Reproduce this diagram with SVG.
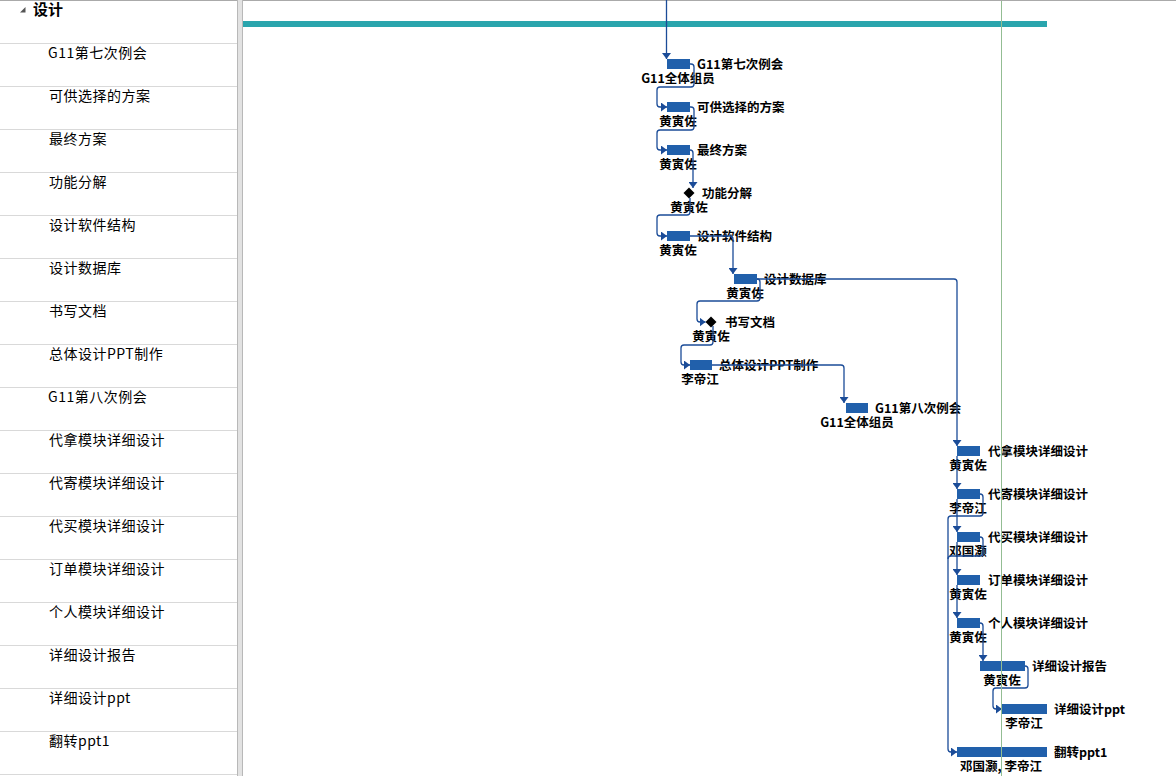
<svg xmlns="http://www.w3.org/2000/svg" width="1176" height="776" viewBox="0 0 1176 776">
<style>
.row{font-family:"Noto Sans CJK SC","Liberation Sans",sans-serif;font-size:14px;fill:#000;letter-spacing:0.5px}
.hdr{font-family:"Noto Sans CJK SC","Liberation Sans",sans-serif;font-size:15px;font-weight:bold;fill:#000}
.sep{stroke:#d9d9d9;stroke-width:1}
.bar{fill:#2160ab}
.ms{fill:#000}
.lbl{font-family:"Noto Sans CJK SC","Liberation Sans",sans-serif;font-size:12.5px;font-weight:bold;fill:#000}
.res{font-family:"Noto Sans CJK SC","Liberation Sans",sans-serif;font-size:12.5px;font-weight:bold;fill:#000;text-anchor:middle}
.cn{fill:none;stroke:#1b4c98;stroke-width:1.3;marker-end:url(#ah)}
.cx{fill:none;stroke:#1b4c98;stroke-width:1.3}
</style>
<defs>
<marker id="ah" viewBox="0 0 6 9" refX="6" refY="4.5" markerUnits="userSpaceOnUse" markerWidth="6" markerHeight="9" orient="auto">
<path d="M0,0 L6,4.5 L0,9 z" fill="#1b4c98"/>
</marker>
</defs>
<rect x="0" y="0" width="1176" height="776" fill="#fff"/>
<g id="grid">
<line x1="0" y1="0.5" x2="1176" y2="0.5" stroke="#aaa"/>
<rect x="237" y="0" width="5" height="776" fill="#e2e2e2"/>
<line x1="237.5" y1="0" x2="237.5" y2="776" stroke="#b8b8b8"/>
<line x1="242.5" y1="0" x2="242.5" y2="776" stroke="#b8b8b8"/>
<line class="sep" x1="0" y1="43.5" x2="237" y2="43.5"/>
<line class="sep" x1="0" y1="86.5" x2="237" y2="86.5"/>
<line class="sep" x1="0" y1="129.5" x2="237" y2="129.5"/>
<line class="sep" x1="0" y1="172.5" x2="237" y2="172.5"/>
<line class="sep" x1="0" y1="215.5" x2="237" y2="215.5"/>
<line class="sep" x1="0" y1="258.5" x2="237" y2="258.5"/>
<line class="sep" x1="0" y1="301.5" x2="237" y2="301.5"/>
<line class="sep" x1="0" y1="344.5" x2="237" y2="344.5"/>
<line class="sep" x1="0" y1="387.5" x2="237" y2="387.5"/>
<line class="sep" x1="0" y1="430.5" x2="237" y2="430.5"/>
<line class="sep" x1="0" y1="473.5" x2="237" y2="473.5"/>
<line class="sep" x1="0" y1="516.5" x2="237" y2="516.5"/>
<line class="sep" x1="0" y1="559.5" x2="237" y2="559.5"/>
<line class="sep" x1="0" y1="602.5" x2="237" y2="602.5"/>
<line class="sep" x1="0" y1="645.5" x2="237" y2="645.5"/>
<line class="sep" x1="0" y1="688.5" x2="237" y2="688.5"/>
<line class="sep" x1="0" y1="731.5" x2="237" y2="731.5"/>
<line class="sep" x1="0" y1="774.5" x2="237" y2="774.5"/>
</g>
<g id="table">
<polygon points="25.5,7 25.5,12.5 20,12.5" fill="#555"/>
<text class="hdr" x="33" y="15">设计</text>
<text class="row" x="48" y="58">G11第七次例会</text>
<text class="row" x="49" y="101">可供选择的方案</text>
<text class="row" x="49" y="144">最终方案</text>
<text class="row" x="49" y="187">功能分解</text>
<text class="row" x="49" y="230">设计软件结构</text>
<text class="row" x="49" y="273">设计数据库</text>
<text class="row" x="49" y="316">书写文档</text>
<text class="row" x="49" y="359">总体设计PPT制作</text>
<text class="row" x="48" y="402">G11第八次例会</text>
<text class="row" x="49" y="445">代拿模块详细设计</text>
<text class="row" x="49" y="488">代寄模块详细设计</text>
<text class="row" x="49" y="531">代买模块详细设计</text>
<text class="row" x="49" y="574">订单模块详细设计</text>
<text class="row" x="49" y="617">个人模块详细设计</text>
<text class="row" x="49" y="660">详细设计报告</text>
<text class="row" x="49" y="703">详细设计ppt</text>
<text class="row" x="49" y="746">翻转ppt1</text>
</g>
<rect id="summary" x="243" y="21" width="804" height="6" fill="#2aa5ad"/>
<g id="t1"><rect class="bar" x="667" y="59" width="23" height="10"/><text class="lbl" x="697" y="69">G11第七次例会</text><text class="res" x="678" y="83">G11全体组员</text></g>
<g id="t2"><rect class="bar" x="667" y="102" width="23" height="10"/><text class="lbl" x="697" y="112">可供选择的方案</text><text class="res" x="678" y="126">黄寅佐</text></g>
<g id="t3"><rect class="bar" x="667" y="145" width="23" height="10"/><text class="lbl" x="697" y="155">最终方案</text><text class="res" x="678" y="169">黄寅佐</text></g>
<g id="t4"><polygon class="ms" points="689,187.5 694.5,193 689,198.5 683.5,193"/><text class="lbl" x="702" y="198">功能分解</text><text class="res" x="689" y="212">黄寅佐</text></g>
<g id="t5"><rect class="bar" x="667" y="231" width="23" height="10"/><text class="lbl" x="697" y="241">设计软件结构</text><text class="res" x="678" y="255">黄寅佐</text></g>
<g id="t6"><rect class="bar" x="734" y="274" width="23" height="10"/><text class="lbl" x="764" y="284">设计数据库</text><text class="res" x="745" y="298">黄寅佐</text></g>
<g id="t7"><polygon class="ms" points="711,316.5 716.5,322 711,327.5 705.5,322"/><text class="lbl" x="725" y="327">书写文档</text><text class="res" x="711" y="341">黄寅佐</text></g>
<g id="t8"><rect class="bar" x="690" y="360" width="22" height="10"/><text class="lbl" x="719" y="370">总体设计PPT制作</text><text class="res" x="700" y="384">李帝江</text></g>
<g id="t9"><rect class="bar" x="846" y="403" width="22" height="10"/><text class="lbl" x="875" y="413">G11第八次例会</text><text class="res" x="857" y="427">G11全体组员</text></g>
<g id="t10"><rect class="bar" x="957" y="446" width="23" height="10"/><text class="lbl" x="988" y="456">代拿模块详细设计</text><text class="res" x="968" y="470">黄寅佐</text></g>
<g id="t11"><rect class="bar" x="957" y="489" width="23" height="10"/><text class="lbl" x="988" y="499">代寄模块详细设计</text><text class="res" x="968" y="513">李帝江</text></g>
<g id="t12"><rect class="bar" x="957" y="532" width="23" height="10"/><text class="lbl" x="988" y="542">代买模块详细设计</text><text class="res" x="968" y="556">邓国灏</text></g>
<g id="t13"><rect class="bar" x="957" y="575" width="23" height="10"/><text class="lbl" x="988" y="585">订单模块详细设计</text><text class="res" x="968" y="599">黄寅佐</text></g>
<g id="t14"><rect class="bar" x="957" y="618" width="23" height="10"/><text class="lbl" x="988" y="628">个人模块详细设计</text><text class="res" x="968" y="642">黄寅佐</text></g>
<g id="t15"><rect class="bar" x="980" y="661" width="45" height="10"/><text class="lbl" x="1032" y="671">详细设计报告</text><text class="res" x="1002" y="685">黄寅佐</text></g>
<g id="t16"><rect class="bar" x="1002" y="704" width="45" height="10"/><text class="lbl" x="1054" y="714">详细设计ppt</text><text class="res" x="1024" y="728">李帝江</text></g>
<g id="t17"><rect class="bar" x="957" y="747" width="90" height="10"/><text class="lbl" x="1054" y="757">翻转ppt1</text><text class="res" x="1001" y="771">邓国灏, 李帝江</text></g>
<g id="connectors">
<path class="cn" d="M666.5,0 V59"/>
<path class="cn" d="M690,64 H691 Q694,64 694,67 V84 Q694,87 691,87 H660 Q657,87 657,90 V104 Q657,107 660,107 H667"/>
<path class="cn" d="M690,107 H691 Q694,107 694,110 V127 Q694,130 691,130 H660 Q657,130 657,133 V147 Q657,150 660,150 H667"/>
<path class="cn" d="M690,150 Q693,150 693,153 V188"/>
<path class="cn" d="M690,198 V212 Q690,215 687,215 H660 Q657,215 657,218 V233 Q657,236 660,236 H667"/>
<path class="cn" d="M690,236 H730 Q733,236 733,239 V274"/>
<path class="cn" d="M757,279 Q760,279 760,282 V298 Q760,301 757,301 H700 Q697,301 697,304 V319 Q697,322 700,322 H705.5"/>
<path class="cn" d="M713,326 V342 Q713,345 710,345 H684 Q681,345 681,348 V362 Q681,365 684,365 H690"/>
<path class="cn" d="M712,365 H841 Q844,365 844,368 V403"/>
<path class="cn" d="M757,279 H954 Q957,279 957,282 V446"/>
<path class="cn" d="M957,456 V489"/>
<path class="cn" d="M957,499 V532"/>
<path class="cn" d="M957,542 V575"/>
<path class="cn" d="M957,585 V618"/>
<path class="cn" d="M980,494 Q983,494 983,497 V513 Q983,516 980,516 H951 Q948,516 948,519 V749 Q948,752 951,752 H957"/>
<path class="cx" d="M980,537 Q983,537 983,540 V553 Q983,556 980,556 H951 Q948,556 948,559"/>
<path class="cn" d="M980,623 Q983,623 983,626 V661"/>
<path class="cn" d="M1025,666 Q1028,666 1028,669 V685 Q1028,688 1025,688 H996 Q993,688 993,691 V706 Q993,709 996,709 H1002"/>
</g>
<line id="today" x1="1001.5" y1="1" x2="1001.5" y2="776" stroke="#93bd93" stroke-width="1"/>
</svg>
